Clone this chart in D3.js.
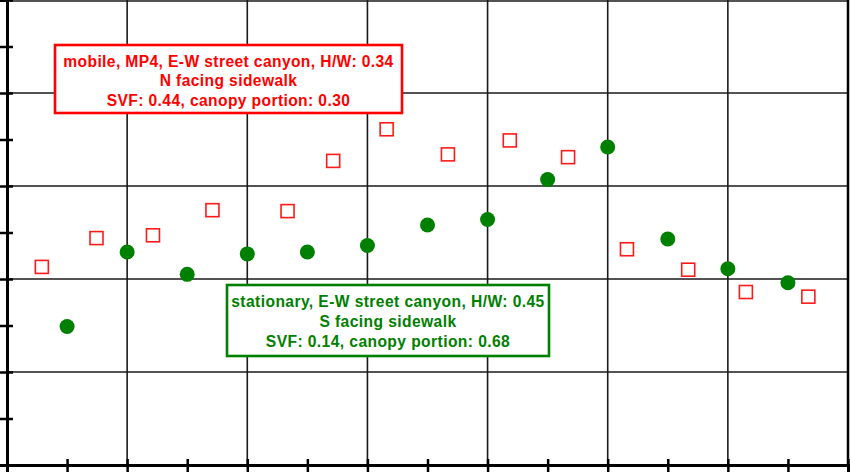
<!DOCTYPE html>
<html><head><meta charset="utf-8">
<script src="https://cdn.jsdelivr.net/npm/d3@7"></script>
<style>html,body{margin:0;padding:0;background:#fff;}svg{display:block;}</style>
</head><body>
<script>
// data
const stationaryX = [1,2,3,4,5,6,7,8,9,10,11,12,13];
const stationaryY = [1.49,2.29,2.05,2.27,2.29,2.36,2.58,2.64,3.07,3.42,2.43,2.11,1.96];
const mobileX = [0.58,1.49,2.43,3.42,4.67,5.43,6.32,7.34,8.37,9.34,10.32,11.34,12.30,13.34];
const mobileY = [2.13,2.44,2.47,2.74,2.73,3.27,3.61,3.34,3.49,3.31,2.32,2.10,1.86,1.81];
const xTicks = [0,1,2,3,4,5,6,7,8,9,10,11,12,13,14];
const xGrid = [2,4,6,8,10,12];
const yTicks = [0,0.5,1,1.5,2,2.5,3,3.5,4,4.5,5];
const yGrid = [1,2,3,4];
const mobileLabel = ["mobile, MP4, E-W street canyon, H/W: 0.34","N facing sidewalk","SVF: 0.44, canopy portion: 0.30"];
const stationaryLabel = ["stationary, E-W street canyon, H/W: 0.45","S facing sidewalk","SVF: 0.14, canopy portion: 0.68"];

const W=850,H=472;
const m={left:7,top:0,right:2,bottom:7};
const svg=d3.select("body").append("svg").attr("width",W).attr("height",H);
const g=svg.append("g").attr("transform",`translate(${m.left},${m.top})`);
const x=d3.scaleLinear().domain([0,14]).range([0,841]);
const y=d3.scaleLinear().domain([0,5]).range([465,0]);

// grid
g.selectAll(".vg").data(xGrid).join("line").attr("x1",d=>x(d)).attr("x2",d=>x(d)).attr("y1",0).attr("y2",465).attr("stroke","#1a1a1a").attr("stroke-width",1.6);
g.selectAll(".hg").data(yGrid).join("line").attr("y1",d=>y(d)).attr("y2",d=>y(d)).attr("x1",0).attr("x2",841).attr("stroke","#1a1a1a").attr("stroke-width",1.6);
// frame top/right
g.append("line").attr("x1",0).attr("x2",841).attr("y1",1).attr("y2",1).attr("stroke","#1a1a1a").attr("stroke-width",1.6);
g.append("line").attr("x1",841).attr("x2",841).attr("y1",0).attr("y2",465).attr("stroke","#000").attr("stroke-width",2.5);

// axes
const ax=g.append("g").attr("transform","translate(0,465)").call(d3.axisBottom(x).tickValues(xTicks).tickSize(7).tickFormat(""));
ax.select(".domain").attr("stroke-width",3).attr("stroke","#000");
ax.selectAll(".tick line").attr("y1",-6).attr("y2",7).attr("stroke-width",2.5).attr("stroke","#000");
const ay=g.append("g").call(d3.axisLeft(y).tickValues(yTicks).tickSize(7).tickFormat(""));
ay.select(".domain").attr("stroke-width",3).attr("stroke","#000");
ay.selectAll(".tick line").attr("x1",-7).attr("x2",6).attr("stroke-width",2.5).attr("stroke","#000");

// mobile squares
const s=13;
g.selectAll(".sq").data(mobileX.map((d,i)=>[d,mobileY[i]])).join("rect")
 .attr("x",d=>x(d[0])-s/2).attr("y",d=>y(d[1])-s/2).attr("width",s).attr("height",s)
 .attr("fill","#fff").attr("stroke","#ff1a1a").attr("stroke-width",1.6);
// stationary circles
g.selectAll(".ci").data(stationaryX.map((d,i)=>[d,stationaryY[i]])).join("circle")
 .attr("cx",d=>x(d[0])).attr("cy",d=>y(d[1])).attr("r",7.5).attr("fill","#008000");

// annotation boxes
function box(lines,color,x0,y0,x1,y1,base,tw){
  svg.append("rect").attr("x",x0).attr("y",y0).attr("width",x1-x0).attr("height",y1-y0)
    .attr("fill","#fff").attr("stroke",color).attr("stroke-width",2.6);
  const t=svg.selectAll(null).data(lines).join("text").attr("x",(x0+x1)/2).attr("y",(d,i)=>base+i*19.8)
    .attr("text-anchor","middle").attr("fill",color).attr("font-family","Liberation Sans, Arial, sans-serif")
    .attr("font-weight","bold").attr("font-size","15.6px").text(d=>d);
  // fit first line width to reference width
  const w0=t.nodes()[0].getComputedTextLength();
  const ls=(tw-w0)/(lines[0].length-1);
  t.attr("letter-spacing",ls+"px");
}
box(mobileLabel,"#ff0000",55,45,402,113,66.5,330);
box(stationaryLabel,"#008000",227,285,549,356,307,313);
</script>
</body></html>
